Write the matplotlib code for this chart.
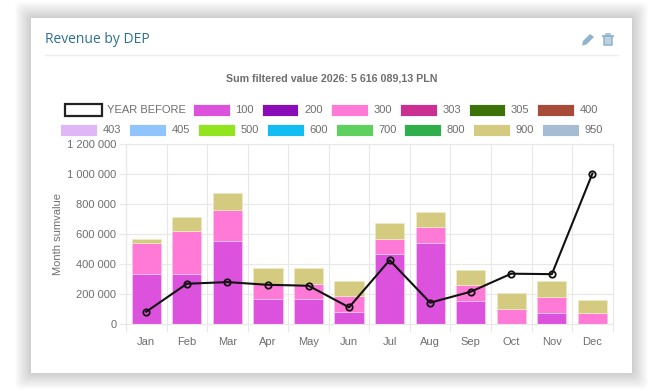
import matplotlib
matplotlib.use('Agg')
import matplotlib.pyplot as plt
from matplotlib.patches import Rectangle, Polygon, FancyBboxPatch

W, H = 664, 391

months = ['Jan', 'Feb', 'Mar', 'Apr', 'May', 'Jun', 'Jul', 'Aug', 'Sep', 'Oct', 'Nov', 'Dec']
dep_100 = [330000, 330000, 550000, 166000, 166000, 80000, 461000, 539000, 153000, 0, 73000, 0]
dep_300 = [209000, 286000, 206000, 98000, 98000, 102000, 104000, 104000, 102000, 100000, 104000, 71000]
dep_900 = [24000, 96000, 113000, 106000, 106000, 104000, 105000, 104000, 104000, 104000, 105000, 84000]
year_before = [80000, 266000, 277000, 259000, 253000, 109000, 423000, 140000, 213000, 333000, 330000, 1000000]

yticks = [0, 200000, 400000, 600000, 800000, 1000000, 1200000]
ytick_labels = ['0', '200 000', '400 000', '600 000', '800 000', '1 000 000', '1 200 000']

legend_row1 = ['100', '200', '300', '303', '305', '400']
legend_row1_colors = ['#dc52dc', '#8a0cb8', '#ff7ad6', '#cc2f92', '#3d7208', '#a84a38']
legend_row1_x = [193, 261.5, 331, 400, 468.5, 537]
legend_row2 = ['403', '405', '500', '600', '700', '800', '900', '950']
legend_row2_colors = ['#dfb6f6', '#90c4ff', '#92e41e', '#14bcf4', '#5dd05d', '#30ae4c', '#d4ca80', '#a6bcd2']
legend_row2_x = [60, 129, 198, 267, 336, 404, 473, 542]

GREY = '#6e6e6e'
GRID = '#e8e8e8'
ICON = '#8fb4cc'
plt.rcParams['font.family'] = ['Liberation Sans', 'DejaVu Sans']

fig = plt.figure(figsize=(W / 100, H / 100), dpi=100, facecolor='white')

# page layer in pixel coords
bg = fig.add_axes([0, 0, 1, 1])
bg.set_xlim(0, W)
bg.set_ylim(H, 0)
bg.axis('off')

# soft shadow round the card
for i in range(16, 0, -1):
    bg.add_patch(FancyBboxPatch((31 - i + 4, 18 - i + 4), 601 + 2 * i - 8, 355 + 2 * i - 8,
                                boxstyle='round,pad=4,rounding_size=6', fc='#000000', ec='none',
                                alpha=0.013))
bg.add_patch(Rectangle((31, 18), 601, 355, fc='white', ec='none'))

bg.text(45, 39.5, 'Revenue by DEP', family='Open Sans', fontsize=10, color='#2b7095', va='center')
bg.plot([45, 618], [55, 55], color='#eeeeee', lw=1)

# pencil and bin icons
bg.add_patch(Polygon([[583, 41], [590, 34], [594, 37], [586.5, 44.5], [582, 45.5]], fc=ICON, ec='none'))
bg.add_patch(Rectangle((604, 36), 8, 9, fc='#bcd2e0', ec=ICON, lw=1.1))
bg.plot([603, 613], [35.5, 35.5], color=ICON, lw=1.3)
bg.plot([606, 610], [33.7, 33.7], color=ICON, lw=1.1)

bg.text(331.5, 78.5, 'Sum filtered value 2026: 5 616 089,13 PLN', fontsize=7.7, fontweight='bold',
        color=GREY, ha='center', va='center')

# legend
bg.add_patch(Rectangle((64.5, 103.5), 37, 12, fc='white', ec='#222222', lw=1.6))
bg.text(107, 110, 'YEAR BEFORE', fontsize=8.05, color=GREY, va='center')
for name, col, x in zip(legend_row1, legend_row1_colors, legend_row1_x):
    bg.add_patch(Rectangle((x, 103.5), 36.5, 12, fc=col, ec='#ffffff', lw=0.6))
    bg.text(x + 42.5, 110, name, fontsize=8.05, color=GREY, va='center')
for name, col, x in zip(legend_row2, legend_row2_colors, legend_row2_x):
    bg.add_patch(Rectangle((x, 123.5), 36.5, 12, fc=col, ec='#ffffff', lw=0.6))
    bg.text(x + 42.5, 130, name, fontsize=8.05, color=GREY, va='center')

# chart
left, right, top, bottom = 126, 612.7, 143.5, 323.7
ax = fig.add_axes([left / W, 1 - bottom / H, (right - left) / W, (bottom - top) / H])
ax.patch.set_alpha(0)
x = list(range(len(months)))
bar_w = 0.72
ax.bar(x, dep_100, bar_w, color='#dc52dc', edgecolor='#f3c4f3', linewidth=0.6, zorder=2)
ax.bar(x, dep_300, bar_w, bottom=dep_100, color='#ff7ad6', edgecolor='#ffc4ec', linewidth=0.6, zorder=2)
base = [a + b for a, b in zip(dep_100, dep_300)]
ax.bar(x, dep_900, bar_w, bottom=base, color='#d4ca80', edgecolor='#eee9c4', linewidth=0.6, zorder=2)
ax.plot(x, year_before, color='#111111', lw=1.5, marker='o', ms=4.6, mfc='none', mec='#111111', mew=1.3,
        zorder=3)

ax.set_xlim(-0.5, 11.5)
ax.set_ylim(0, 1200000)
ax.set_yticks(yticks)
ax.set_yticklabels(ytick_labels)
ax.set_xticks([i - 0.5 for i in range(13)], minor=True)
ax.set_xticks(x)
ax.set_xticklabels(months)
ax.grid(True, which='minor', axis='x', color=GRID, lw=0.8, zorder=0)
ax.grid(True, which='major', axis='y', color=GRID, lw=0.8, zorder=0)
ax.tick_params(axis='x', which='major', length=0, labelsize=8.05, labelcolor=GREY, pad=9.5)
ax.tick_params(axis='x', which='minor', length=5.5, width=0.8, color=GRID)
ax.tick_params(axis='y', length=5, width=0.8, color=GRID, labelsize=8.05, labelcolor=GREY, pad=2)
for s in ax.spines.values():
    s.set_color(GRID)
    s.set_linewidth(0.8)
ax.set_ylabel('Month sumvalue', fontsize=8.05, color=GREY, labelpad=2.5)

fig.savefig('out.png', dpi=100)
